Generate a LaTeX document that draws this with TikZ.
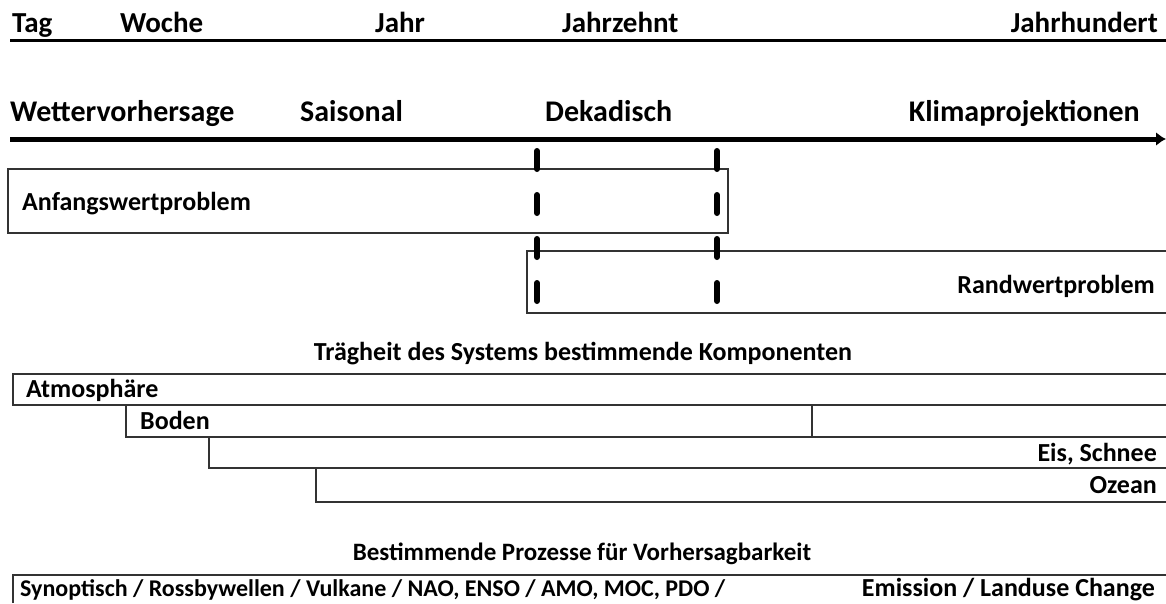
\documentclass[tikz,border=0pt]{standalone}
\usepackage{fontspec}
\setmainfont{Carlito}
\usetikzlibrary{arrows.meta}

\tikzset{
  lbl/.style={inner sep=0pt, anchor=base west},
  lblr/.style={inner sep=0pt, anchor=base east},
  big/.style={font=\fontsize{29}{33}\selectfont\bfseries},
  bigger/.style={font=\fontsize{30}{34}\selectfont\bfseries},
  small/.style={font=\fontsize{24}{28}\selectfont\bfseries},
  box/.style={line width=1.6pt, draw=black!80},
  marker/.style={line width=6pt, line cap=round, dash pattern=on 18pt off 26pt}
}

\begin{document}
\begin{tikzpicture}[x=1pt, y=-1pt, >=Latex, font=\fontsize{26}{30}\selectfont\bfseries]
\useasboundingbox (0,0) rectangle (1166,603);
% time scales
\draw[line width=3pt] (10,40) -- (1166,40);
\node[lbl, big] (tag) at (12,32) {Tag};
\node[lbl, big] (woche) at (120,32) {Woche};
\node[lbl, big] (jahr) at (375,32) {Jahr};
\node[lbl, big] (jahrzehnt) at (562,32) {Jahrzehnt};
\node[lblr, big] (jahrhundert) at (1158,32) {Jahrhundert};
% forecast types
\node[lbl, bigger] (wetter) at (10,121) {Wettervorhersage};
\node[lbl, bigger] (saison) at (300,121) {Saisonal};
\node[lbl, bigger] (dekad) at (545,121) {Dekadisch};
\node[lblr, bigger] (klima) at (1140,121) {Klimaprojektionen};
\draw[line width=5pt, -{Latex[length=10pt, width=14pt]}] (10,139) -- (1166,139);
% initial / boundary value problem
\draw[box] (8,169) rectangle (728,233);
\node[lbl] (anfang) at (22,210) {Anfangswertproblem};
\draw[box] (1166,251) -- (527,251) -- (527,313) -- (1166,313);
\node[lblr] (rand) at (1155,293) {Randwertproblem};
\draw[marker] (537,151) -- (537,304);
\draw[marker] (717,151) -- (717,304);
% components
\node[inner sep=0pt, anchor=base] (traeg) at (583,360) {Trägheit des Systems bestimmende Komponenten};
\draw[box] (1166,374) -- (13,374) -- (13,405) -- (1166,405);
\draw[box] (126,405) -- (126,437) -- (1166,437);
\draw[box] (812,405) -- (812,437);
\draw[box] (209,437) -- (209,468) -- (1166,468);
\draw[box] (316,468) -- (316,502) -- (1166,502);
\node[lbl] (atmo) at (26,397) {Atmosphäre};
\node[lbl] (boden) at (140,429) {Boden};
\node[lblr] (eis) at (1157,461) {Eis, Schnee};
\node[lblr] (ozean) at (1157,493) {Ozean};
% processes
\node[inner sep=0pt, anchor=base, font=\fontsize{25}{29}\selectfont\bfseries] (proz) at (582,560) {Bestimmende Prozesse für Vorhersagbarkeit};
\draw[box] (13,603) -- (13,575) -- (1166,575);
\node[lbl, small] (synopt) at (20,596) {Synoptisch / Rossbywellen / Vulkane / NAO, ENSO / AMO, MOC, PDO /};
\node[lblr] (emiss) at (1155,596) {Emission / Landuse Change};
\end{tikzpicture}
\end{document}
